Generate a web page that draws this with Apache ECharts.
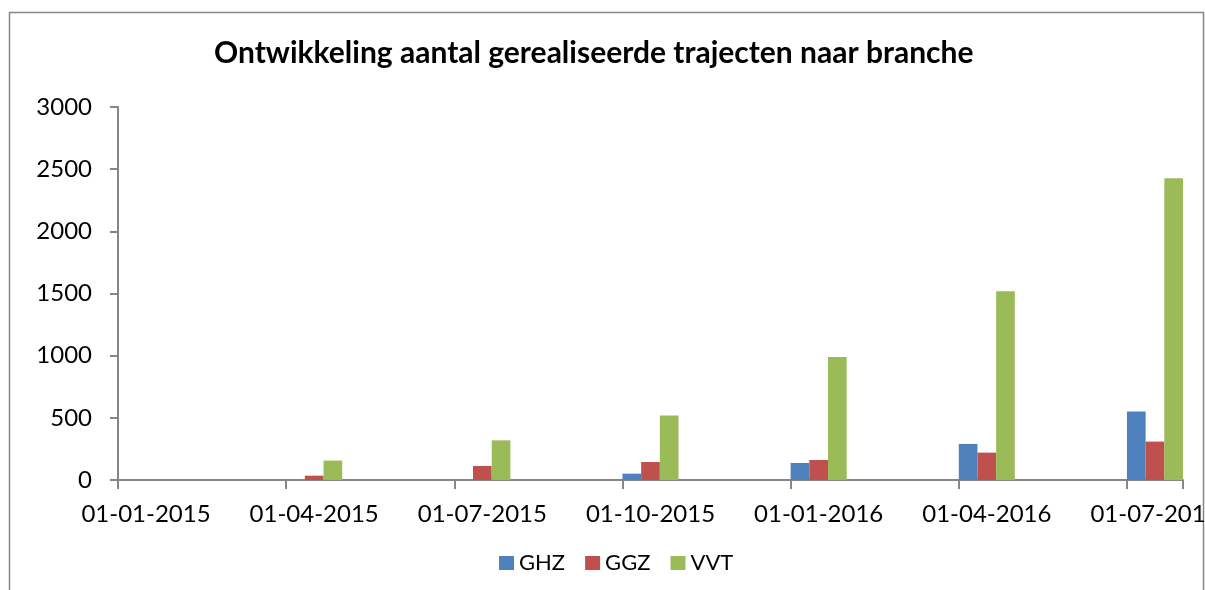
<!DOCTYPE html>
<html>
<head>
<meta charset="utf-8">
<script src="https://cdn.jsdelivr.net/npm/echarts@6/dist/echarts.min.js"></script>
<style>
  html, body { margin: 0; padding: 0; background: #fff; }
  #main { width: 1205px; height: 590px; }
</style>
</head>
<body>
<div id="main"></div>
<script>
// maanden op de datum-as (één balkgroep per maand, alleen kwartalen gevuld)
var months = [
  '01-01-2015', '01-02-2015', '01-03-2015', '01-04-2015', '01-05-2015', '01-06-2015',
  '01-07-2015', '01-08-2015', '01-09-2015', '01-10-2015', '01-11-2015', '01-12-2015',
  '01-01-2016', '01-02-2016', '01-03-2016', '01-04-2016', '01-05-2016', '01-06-2016',
  '01-07-2016'
]
var ghz = [0, null, null, 0, null, null, 0, null, null, 51, null, null, 137, null, null, 290, null, null, 551]
var ggz = [0, null, null, 35, null, null, 113, null, null, 145, null, null, 161, null, null, 220, null, null, 309]
var vvt = [0, null, null, 156, null, null, 319, null, null, 519, null, null, 989, null, null, 1518, null, null, 2427]

var axisColor = '#868686'
var font = 'Lato, "Liberation Sans", sans-serif'

var myChart = echarts.init(document.getElementById('main'))

var option = {
  animation: false,
  textStyle: { fontFamily: font, color: '#000' },
  title: {
    text: 'Ontwikkeling aantal gerealiseerde trajecten naar branche',
    left: 209,
    top: 33,
    textStyle: { fontSize: 30, fontWeight: 'bold', color: '#000', fontFamily: font }
  },
  legend: {
    data: ['GHZ', 'GGZ', 'VVT'],
    left: 494,
    top: 547,
    itemWidth: 15,
    itemHeight: 14,
    itemGap: 20,
    icon: 'rect',
    textStyle: { fontSize: 22, color: '#000', fontFamily: font }
  },
  grid: {
    left: 118,
    right: 22,
    top: 107,
    bottom: 110,
    containLabel: false,
    outerBoundsMode: 'none'
  },
  xAxis: {
    type: 'category',
    data: months,
    boundaryGap: true,
    axisLine: { lineStyle: { color: axisColor, width: 2 } },
    axisTick: { show: true, interval: 2, length: 9, lineStyle: { color: axisColor, width: 2 } },
    axisLabel: { interval: 2, margin: 22, fontSize: 24, color: '#000', fontFamily: font, hideOverlap: false },
    splitLine: { show: false }
  },
  yAxis: {
    type: 'value',
    min: 0,
    max: 3000,
    interval: 500,
    axisLine: { show: true, lineStyle: { color: axisColor, width: 2 } },
    axisTick: { show: true, length: 8, lineStyle: { color: axisColor, width: 2 } },
    axisLabel: {
      margin: 26, fontSize: 24, color: '#000', fontFamily: font,
      formatter: function (v) { return String(v) }
    },
    splitLine: { show: false }
  },
  graphic: [
    {
      type: 'rect',
      shape: { x: 9.5, y: 12.5, width: 1194, height: 620 },
      style: { fill: 'none', stroke: axisColor, lineWidth: 1.5 },
      silent: true
    }
  ],
  series: [
    { name: 'GHZ', type: 'bar', data: ghz, barGap: '0%', barCategoryGap: '0%', itemStyle: { color: '#4F81BD' } },
    { name: 'GGZ', type: 'bar', data: ggz, barGap: '0%', barCategoryGap: '0%', itemStyle: { color: '#C0504D' } },
    { name: 'VVT', type: 'bar', data: vvt, barGap: '0%', barCategoryGap: '0%', itemStyle: { color: '#9BBB59' } }
  ]
}

myChart.setOption(option)
</script>
</body>
</html>
